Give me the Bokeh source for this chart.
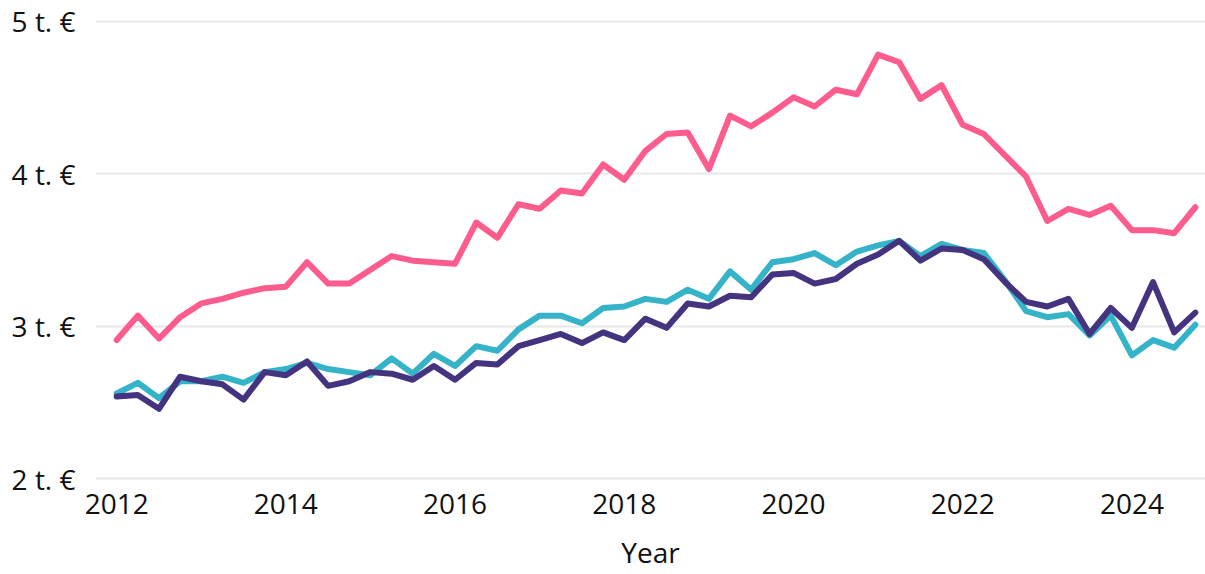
from bokeh.plotting import figure
from bokeh.models import FixedTicker, Range1d
from bokeh.embed import file_html
from bokeh.resources import INLINE

# Quarterly values, 2012 Q1 .. 2024 Q4 (thousand €)
years = [2012 + q / 4 for q in range(52)]

series_pink = [
    2.91, 3.07, 2.92, 3.06, 3.15, 3.18, 3.22, 3.25, 3.26, 3.42,
    3.28, 3.28, 3.37, 3.46, 3.43, 3.42, 3.41, 3.68, 3.58, 3.80,
    3.77, 3.89, 3.87, 4.06, 3.96, 4.15, 4.26, 4.27, 4.03, 4.38,
    4.31, 4.40, 4.50, 4.44, 4.55, 4.52, 4.78, 4.73, 4.49, 4.58,
    4.32, 4.26, 4.12, 3.98, 3.69, 3.77, 3.73, 3.79, 3.63, 3.63,
    3.61, 3.78,
]
series_teal = [
    2.56, 2.63, 2.53, 2.64, 2.64, 2.67, 2.63, 2.70, 2.72, 2.76,
    2.72, 2.70, 2.68, 2.79, 2.69, 2.82, 2.74, 2.87, 2.84, 2.98,
    3.07, 3.07, 3.02, 3.12, 3.13, 3.18, 3.16, 3.24, 3.18, 3.36,
    3.24, 3.42, 3.44, 3.48, 3.40, 3.49, 3.53, 3.56, 3.46, 3.54,
    3.50, 3.48, 3.30, 3.10, 3.06, 3.08, 2.94, 3.07, 2.81, 2.91,
    2.86, 3.01,
]
series_purple = [
    2.54, 2.55, 2.46, 2.67, 2.64, 2.62, 2.52, 2.70, 2.68, 2.77,
    2.61, 2.64, 2.70, 2.69, 2.65, 2.74, 2.65, 2.76, 2.75, 2.87,
    2.91, 2.95, 2.89, 2.96, 2.91, 3.05, 2.99, 3.15, 3.13, 3.20,
    3.19, 3.34, 3.35, 3.28, 3.31, 3.41, 3.47, 3.56, 3.43, 3.51,
    3.50, 3.44, 3.29, 3.16, 3.13, 3.18, 2.95, 3.12, 2.99, 3.29,
    2.96, 3.09,
]

x_ticks = [2012, 2014, 2016, 2018, 2020, 2022, 2024]
y_ticks = [2, 3, 4, 5]
y_tick_labels = ["2 t. €", "3 t. €", "4 t. €", "5 t. €"]
x_title = "Year"

FONT = "Open Sans"
FS = "28px"

p = figure(
    width=1205, height=574,
    output_backend="svg", toolbar_location=None,
    x_range=Range1d(2011.75, 2024.87), y_range=Range1d(1.99, 5.01),
    min_border_left=95, min_border_right=0, min_border_top=19, min_border_bottom=94,
)
p.outline_line_color = None
p.background_fill_color = "white"
p.border_fill_color = "white"

p.line(years, series_pink, color="#FF5C8E", line_width=6, line_cap="round", line_join="round")
p.line(years, series_teal, color="#35B3C9", line_width=6, line_cap="round", line_join="round")
p.line(years, series_purple, color="#44337F", line_width=6, line_cap="round", line_join="round")

p.xgrid.grid_line_color = None
p.ygrid.grid_line_color = "#e8e8e8"
p.ygrid.grid_line_width = 2
p.ygrid.ticker = FixedTicker(ticks=y_ticks)

p.xaxis.ticker = FixedTicker(ticks=x_ticks)
p.yaxis.ticker = FixedTicker(ticks=y_ticks)
p.yaxis.major_label_overrides = {t: l for t, l in zip(y_ticks, y_tick_labels)}

for ax in (p.xaxis[0], p.yaxis[0]):
    ax.axis_line_color = None
    ax.major_tick_line_color = None
    ax.minor_tick_line_color = None
    ax.major_tick_out = 0
    ax.major_tick_in = 0
    ax.minor_tick_out = 0
    ax.major_label_text_font = FONT
    ax.major_label_text_font_size = FS
    ax.major_label_text_color = "#111111"

p.yaxis.major_label_standoff = 20
p.xaxis.major_label_standoff = 13
p.xaxis.axis_label = x_title
p.xaxis.axis_label_text_font = FONT
p.xaxis.axis_label_text_font_size = FS
p.xaxis.axis_label_text_font_style = "normal"
p.xaxis.axis_label_text_color = "#111111"
p.xaxis.axis_label_standoff = 16

open("out.html", "w").write(file_html(p, INLINE))
